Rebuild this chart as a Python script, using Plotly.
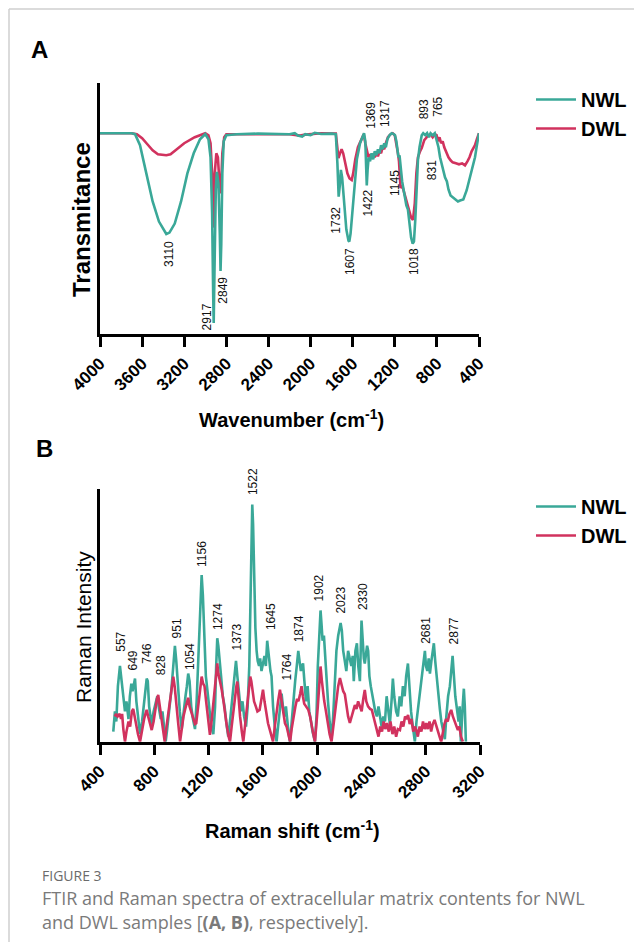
import plotly.graph_objects as go

# the page body has an 8px margin, so the figure is placed at (8, 8)
OX, OY = 8, 8
FW, FH = 626, 934
def px(x): return (x - OX) / FW
def py(y): return 1 - (y - OY) / FH

TEAL = "#3aa898"
RED = "#d1325e"
FONT = "Liberation Sans, Arial, sans-serif"

# ---------------- Panel A: FTIR ----------------
ftir_nwl_x = [4000, 3700, 3667, 3620, 3560, 3500, 3440, 3390, 3370, 3340, 3290, 3230, 3170, 3110, 3050, 3000,
              2970, 2950, 2935, 2925, 2920, 2913, 2900, 2890, 2875, 2862, 2855, 2848, 2838, 2825, 2800, 2700,
              2500, 2200, 2150, 2120, 2080, 2050, 2000, 1960, 1900, 1800, 1760, 1745, 1733, 1722, 1712, 1700,
              1680, 1660, 1640, 1632, 1620, 1600, 1580, 1560, 1530, 1500, 1492, 1480, 1472, 1466, 1458, 1448,
              1435, 1420, 1405, 1390, 1375, 1360, 1345, 1330, 1315, 1300, 1285, 1270, 1250, 1230, 1210, 1198,
              1185, 1175, 1165, 1155, 1145, 1130, 1110, 1090, 1075, 1060, 1045, 1030, 1018, 1005, 990, 980,
              965, 944, 930, 910, 893, 875, 860, 840, 820, 800, 785, 770, 755, 735, 723, 705, 690, 670, 644,
              620, 600, 580, 549, 517, 486, 460, 438, 420, 400]
ftir_nwl_y = [100, 100, 99.5, 94, 80, 66, 56, 51, 49.8, 50.5, 55, 66, 80, 90, 97, 99.6,
              97, 88, 60, 20, 5.5, 30, 72, 80.7, 75, 50, 31.4, 45, 80, 96, 99, 99.5,
              99.8, 99.5, 100, 98.8, 98.3, 99.5, 99, 100.2, 99.6, 99.8, 99.5, 85, 68.4, 74, 81.7, 78,
              65, 52, 46.5, 46, 50, 63, 76, 87, 95, 99, 100, 96, 85, 74, 82, 88,
              86, 90, 87, 91, 89, 92, 90, 94, 92, 95, 93, 97, 99, 100, 99.5, 99,
              96, 92, 88, 89, 82, 76, 70, 64, 62, 54, 48, 45, 46, 57, 75, 86.6,
              93, 99, 100, 99, 100, 98, 100, 99, 100, 96, 93, 88, 85, 81, 78, 76, 72, 69, 67.7,
              66.5, 66, 66.5, 67, 71.6, 78, 84, 88, 94, 100]

ftir_dwl_x = [4000, 3700, 3650, 3600, 3550, 3500, 3450, 3400, 3370, 3330, 3280, 3200, 3100, 3030, 3000,
              2970, 2950, 2935, 2925, 2918, 2910, 2895, 2880, 2865, 2855, 2848, 2838, 2820, 2800, 2200,
              2100, 2050, 1900, 1760, 1745, 1735, 1720, 1705, 1690, 1670, 1650, 1630, 1609, 1595, 1575,
              1550, 1520, 1495, 1480, 1465, 1450, 1435, 1420, 1405, 1390, 1375, 1360, 1345, 1330, 1315,
              1300, 1285, 1265, 1240, 1220, 1200, 1185, 1170, 1160, 1150, 1145, 1130, 1110, 1090, 1075,
              1060, 1045, 1027, 1010, 995, 980, 960, 944, 920, 900, 880, 860, 840, 820, 803, 790, 775,
              760, 745, 730, 710, 690, 670, 650, 620, 590, 560, 533, 510, 490, 470, 450, 438, 420, 400]
ftir_dwl_y = [100, 100, 99.5, 97.5, 94.5, 91.5, 89.5, 89, 89, 89.5, 91.5, 95, 98, 99.5, 100,
              99, 95, 80, 53, 60, 80, 90, 88, 75, 70, 76, 90, 98, 99.5, 99.5,
              98.8, 99.3, 100, 99.8, 92, 87.6, 90, 92, 90, 84, 80, 77.5, 76.7, 80, 87,
              93, 97, 99.5, 95, 91, 88, 89.5, 87.5, 90, 88, 90.5, 88.5, 91, 90, 93,
              92, 95, 98, 99.5, 100, 99, 95, 90, 86, 80, 72.7, 74, 70, 66, 63,
              60, 58, 56.8, 65, 80, 88, 91, 92.6, 96.6, 98, 99, 99.5, 98, 99.5, 99, 96, 98,
              95, 96, 93, 90, 88, 86.5, 85.5, 85, 84.5, 85, 84, 86, 88, 91, 92.5, 94, 97, 100]

ftir_ticks = [4000, 3600, 3200, 2800, 2400, 2000, 1600, 1200, 800, 400]
ftir_peak_text = ["3110", "2917", "2849", "1732", "1607", "1422", "1369", "1317", "1145", "1018", "893", "765", "831"]
ftir_peak_x = [3345, 2987, 2835, 1761, 1632, 1451, 1420, 1293, 1198, 1024, 920, 793, 844]
ftir_peak_y = [39.8, 8.6, 21.9, 56.8, 36, 65.2, 109, 110, 75.2, 36, 112, 113, 81.7]

# ---------------- Panel B: Raman ----------------
raman_nwl_x = [498, 510, 520, 532, 547, 555, 565, 575, 584, 595, 610, 620, 631, 640, 658, 668, 680, 695, 710, 722,
               735, 744, 752, 762, 772, 781, 795, 808, 822, 835, 848, 860, 872, 884, 895, 910, 925, 940, 952, 962,
               975, 988, 1002, 1015, 1030, 1040, 1050, 1060, 1072, 1085, 1100, 1112, 1122, 1132, 1142, 1149, 1158,
               1168, 1180, 1192, 1205, 1220, 1235, 1248, 1256, 1264, 1272, 1282, 1292, 1305, 1318, 1330, 1345,
               1358, 1370, 1382, 1395, 1402, 1412, 1425, 1438, 1450, 1462, 1476, 1488, 1500, 1510, 1516, 1522,
               1528, 1536, 1545, 1554, 1562, 1572, 1580, 1590, 1601, 1612, 1622, 1632, 1640, 1648, 1656, 1664,
               1675, 1688, 1701, 1712, 1725, 1738, 1748, 1760, 1770, 1780, 1790, 1800, 1812, 1825, 1838, 1850,
               1861, 1870, 1880, 1890, 1896, 1906, 1918, 1930, 1942, 1955, 1966, 1984, 1995, 2005, 2015, 2025,
               2033, 2040, 2050, 2058, 2068, 2080, 2092, 2106, 2118, 2130, 2142, 2155, 2165, 2173, 2182, 2192,
               2204, 2215, 2228, 2241, 2252, 2262, 2270, 2282, 2293, 2303, 2315, 2327, 2336, 2344, 2351, 2360,
               2368, 2376, 2385, 2395, 2403, 2415, 2428, 2440, 2452, 2462, 2475, 2488, 2500, 2512, 2522, 2536,
               2548, 2558, 2568, 2582, 2595, 2608, 2620, 2632, 2645, 2656, 2669, 2680, 2692, 2705, 2720, 2732,
               2745, 2758, 2772, 2780, 2794, 2802, 2812, 2822, 2831, 2842, 2850, 2860, 2870, 2880, 2892, 2904,
               2915, 2928, 2941, 2952, 2965, 2978, 2988, 2998, 3008, 3018, 3030, 3042, 3050, 3059, 3070, 3081,
               3088, 3096]
raman_nwl_y = [4, 12, 8, 22, 30, 26, 22, 16, 12, 16, 9, 18, 23, 20, 25, 16, 9, 3, 8, 15,
               22, 25, 24, 14, 10, 7, 12, 15, 18, 13, 9, 12, 6, 0, 5, 12, 20, 30, 38, 32,
               20, 12, 5, 12, 18, 22, 27, 24, 14, 9, 5, 16, 28, 40, 58, 66, 58,
               40, 26, 20, 12, 6, 3, 14, 30, 41, 38, 30, 26, 18, 14, 8, 2,
               8, 14, 22, 28, 32, 26, 18, 12, 16, 10, 6, 14, 30, 60, 85, 94,
               86, 62, 45, 36, 32, 30, 33, 28, 31, 34, 30, 40, 36, 30, 28, 26,
               14, 6, 0, 6, 14, 19, 14, 10, 14, 8, 3, 0, 8, 18, 24, 30,
               36, 32, 28, 30, 31, 24, 16, 22, 12, 8, 4, 0, 10, 30, 42, 52,
               46, 40, 42, 34, 24, 16, 8, 1, 10, 24, 36, 42, 46, 47, 44, 36,
               32, 28, 36, 33, 30, 34, 24, 36, 39, 30, 24, 48, 38, 33, 31, 36,
               38, 36, 26, 22, 20, 16, 12, 10, 14, 10, 6, 10, 8, 18, 14, 7,
               16, 25, 18, 12, 10, 18, 14, 22, 18, 26, 31, 20, 12, 6, 0, 8,
               14, 20, 24, 28, 36, 30, 28, 33, 27, 32, 36, 39, 32, 26, 18, 13,
               8, 4, 1, 10, 18, 22, 28, 34, 26, 18, 13, 8, 14, 0, 12, 21,
               14, 0]

raman_dwl_x = [510, 518, 530, 545, 555, 563, 572, 584, 595, 610, 622, 635, 645, 655, 668, 680, 695, 710, 725, 735,
               744, 755, 768, 781, 795, 810, 820, 829, 840, 852, 865, 877, 890, 905, 918, 930, 940, 950, 962, 975,
               990, 1002, 1015, 1028, 1040, 1050, 1060, 1072, 1085, 1100, 1109, 1120, 1132, 1142, 1149, 1160, 1170,
               1182, 1195, 1210, 1222, 1235, 1248, 1258, 1264, 1272, 1285, 1297, 1310, 1322, 1335, 1348, 1358,
               1370, 1382, 1395, 1405, 1412, 1420, 1432, 1445, 1456, 1468, 1480, 1492, 1500, 1507, 1515, 1525,
               1535, 1548, 1560, 1576, 1588, 1601, 1612, 1625, 1638, 1650, 1662, 1675, 1688, 1700, 1712, 1726,
               1738, 1750, 1763, 1775, 1788, 1801, 1812, 1825, 1840, 1852, 1862, 1875, 1885, 1895, 1905, 1918,
               1935, 1948, 1960, 1972, 1984, 1995, 2005, 2015, 2025, 2035, 2045, 2052, 2065, 2078, 2092, 2106,
               2118, 2130, 2142, 2155, 2168, 2180, 2192, 2204, 2215, 2228, 2241, 2252, 2265, 2278, 2290, 2302,
               2315, 2328, 2340, 2351, 2362, 2375, 2390, 2403, 2415, 2428, 2440, 2452, 2465, 2478, 2490, 2502,
               2514, 2528, 2540, 2555, 2568, 2582, 2595, 2610, 2622, 2635, 2648, 2660, 2670, 2682, 2695, 2708,
               2720, 2731, 2742, 2755, 2768, 2780, 2792, 2804, 2815, 2828, 2840, 2852, 2865, 2878, 2890, 2902,
               2914, 2925, 2938, 2950, 2962, 2975, 2988, 3000, 3012, 3025, 3037, 3048, 3060, 3074]
raman_dwl_y = [10, 11, 10, 11, 9, 11, 5, 0, 4, 8, 6, 12, 13, 10, 6, 3, 0, 5, 9, 11,
               12.6, 10, 7, 4.6, 8, 14, 17, 18.5, 14, 10, 4, 0, 6, 12, 18, 22, 25.8, 22, 14, 8,
               0, 5, 10, 13, 16, 17.4, 14, 12, 9, 7, 7.3, 12, 18, 22, 25.8, 23, 22,
               16, 9, 2.7, 8, 16, 24, 28, 31, 27, 24, 20.6, 16, 10, 6, 2, 0,
               6, 12, 18, 22, 23.8, 18, 10, 4, 0, 6, 12, 18, 22, 25.8, 24, 20,
               16, 14, 12, 12.6, 16, 20.6, 16, 11, 7.3, 5, 2, 0, 6, 12, 16, 20.6,
               16, 11, 7.3, 6, 3, 0, 5, 10, 14, 17, 16, 19, 22, 18, 15, 14,
               12.6, 10, 6, 3, 0, 6, 14, 22, 29.8, 24, 18, 16.2, 12, 7, 3, 0,
               6, 12, 18, 22, 25.2, 22, 20, 18.8, 14, 10, 7.4, 10, 12, 14.5, 13, 16,
               14, 12, 17, 20.5, 16, 14, 13, 12.6, 10, 7, 4.6, 2, 6, 4, 8, 5,
               7.4, 4, 8, 3, 6, 2, 5, 4.6, 8, 6, 10, 9, 10.6, 7, 9, 4,
               6, 4.6, 2, 6, 4, 8, 5, 7.4, 5, 8, 4, 7, 8.6, 6, 4, 2,
               0, 4, 7, 9, 8, 11, 12.6, 10, 8, 6, 4.6, 6, 2, 0]

raman_ticks = [400, 800, 1200, 1600, 2000, 2400, 2800, 3200]
raman_peak_text = ["557", "649", "746", "828", "951", "1054", "1156", "1274", "1373", "1522", "1645", "1764",
                   "1874", "1902", "2023", "2330", "2681", "2877"]
raman_peak_x = [552, 641, 744, 847, 969, 1058, 1151, 1271, 1407, 1529, 1661, 1775, 1865, 2014, 2178, 2333, 2806, 3009]
raman_peak_y = [34.7, 27.3, 30, 25.4, 40.2, 27.5, 68.4, 43.3, 35.4, 96.8, 43.3, 23.5, 38.7, 54.6, 49.9, 51.3, 38, 37.6]

series_names = ["NWL", "DWL"]

fig = go.Figure()
fig.add_trace(go.Scatter(x=ftir_dwl_x, y=ftir_dwl_y, mode="lines", name=series_names[1],
                         line=dict(color=RED, width=2.6), xaxis="x", yaxis="y", legend="legend",
                         legendgroup="a2", legendrank=2))
fig.add_trace(go.Scatter(x=ftir_nwl_x, y=ftir_nwl_y, mode="lines", name=series_names[0],
                         line=dict(color=TEAL, width=2.6), xaxis="x", yaxis="y", legend="legend",
                         legendgroup="a1", legendrank=1))
fig.add_trace(go.Scatter(x=raman_nwl_x, y=raman_nwl_y, mode="lines", name=series_names[0],
                         line=dict(color=TEAL, width=2.6), xaxis="x2", yaxis="y2", legend="legend2",
                         legendgroup="b1", legendrank=1))
fig.add_trace(go.Scatter(x=raman_dwl_x, y=raman_dwl_y, mode="lines", name=series_names[1],
                         line=dict(color=RED, width=2.6), xaxis="x2", yaxis="y2", legend="legend2",
                         legendgroup="b2", legendrank=2))

annotations = []
for t, x, y in zip(ftir_peak_text, ftir_peak_x, ftir_peak_y):
    annotations.append(dict(text=t, x=x, y=y, xref="x", yref="y", showarrow=False, textangle=-90,
                            xanchor="center", yanchor="middle", font=dict(family=FONT, size=12, color="#111")))
for t, x, y in zip(raman_peak_text, raman_peak_x, raman_peak_y):
    annotations.append(dict(text=t, x=x, y=y, xref="x2", yref="y2", showarrow=False, textangle=-90,
                            xanchor="center", yanchor="bottom", font=dict(family=FONT, size=12, color="#111")))

annotations += [
    dict(text="<b>A</b>", x=px(39), y=py(49), xref="paper", yref="paper", showarrow=False,
         xanchor="center", yanchor="middle", font=dict(family=FONT, size=24, color="#000")),
    dict(text="<b>B</b>", x=px(44), y=py(448), xref="paper", yref="paper", showarrow=False,
         xanchor="center", yanchor="middle", font=dict(family=FONT, size=24, color="#000")),
    dict(text="<b>Transmitance</b>", x=px(82), y=py(220), xref="paper", yref="paper", showarrow=False,
         textangle=-90, xanchor="center", yanchor="middle", font=dict(family=FONT, size=24, color="#000")),
    dict(text="Raman Intensity", x=px(83), y=py(627), xref="paper", yref="paper", showarrow=False,
         textangle=-90, xanchor="center", yanchor="middle", font=dict(family=FONT, size=21, color="#000")),
    dict(text="<b>Wavenumber (cm<sup>-1</sup>)</b>", x=px(291), y=py(418), xref="paper", yref="paper",
         showarrow=False, xanchor="center", yanchor="middle", font=dict(family=FONT, size=20, color="#000")),
    dict(text="<b>Raman shift (cm<sup>-1</sup>)</b>", x=px(292), y=py(829), xref="paper", yref="paper",
         showarrow=False, xanchor="center", yanchor="middle", font=dict(family=FONT, size=20, color="#000")),
    dict(text="FIGURE 3", x=px(40), y=py(875), xref="paper", yref="paper", showarrow=False,
         xanchor="left", yanchor="middle", font=dict(family="Open Sans, sans-serif", size=14, color="#6b6b6b")),
    dict(text="FTIR and Raman spectra of extracellular matrix contents for NWL", x=px(40), y=py(898),
         xref="paper", yref="paper", showarrow=False, xanchor="left", yanchor="middle",
         font=dict(family="Open Sans, sans-serif", size=18, color="#7a7a7a")),
    dict(text="and DWL samples [<b>(A, B)</b>, respectively].", x=px(40), y=py(922),
         xref="paper", yref="paper", showarrow=False, xanchor="left", yanchor="middle",
         font=dict(family="Open Sans, sans-serif", size=18, color="#7a7a7a")),
]

axis_common = dict(showline=True, linecolor="#000", linewidth=3, showgrid=False, zeroline=False,
                   ticks="outside", ticklen=10, tickwidth=3, tickcolor="#000", mirror=False, automargin=False)
yaxis_common = dict(showticklabels=False, showline=True, linecolor="#000", linewidth=3, showgrid=False,
                    zeroline=False, ticks="", automargin=False)

legend_common = dict(font=dict(family=FONT, size=20, color="#000", weight="bold"), bgcolor="rgba(0,0,0,0)",
                     xanchor="left", yanchor="top", tracegroupgap=18, itemwidth=40, traceorder="normal")

fig.update_layout(
    width=FW, height=FH, autosize=False,
    margin=dict(l=0, r=0, t=0, b=0, pad=0),
    paper_bgcolor="white", plot_bgcolor="white",
    showlegend=True,
    xaxis=dict(domain=[px(100), px(479)], range=[4000, 400], anchor="y", tickvals=ftir_ticks,
               tickangle=-45, tickfont=dict(family=FONT, size=17, color="#000", weight="bold"), **axis_common),
    yaxis=dict(domain=[py(334), py(83)], range=[0, 125], anchor="x", **yaxis_common),
    xaxis2=dict(domain=[px(100), px(480)], range=[400, 3200], anchor="y2", tickvals=raman_ticks,
                tickangle=-45, tickfont=dict(family=FONT, size=17, color="#000", weight="bold"), **axis_common),
    yaxis2=dict(domain=[py(741.7), py(489.3)], range=[0, 100], anchor="x2", **yaxis_common),
    legend=dict(x=px(531), y=py(80), **legend_common),
    legend2=dict(x=px(531), y=py(487), **legend_common),
    annotations=annotations,
    shapes=[
        dict(type="line", xref="paper", yref="paper", x0=px(9), x1=1, y0=py(9), y1=py(9),
             line=dict(color="#cfcfcf", width=1.5)),
        dict(type="line", xref="paper", yref="paper", x0=px(9), x1=px(9), y0=py(9), y1=0,
             line=dict(color="#cfcfcf", width=1.5)),
    ],
)

fig.write_html("out.html")
